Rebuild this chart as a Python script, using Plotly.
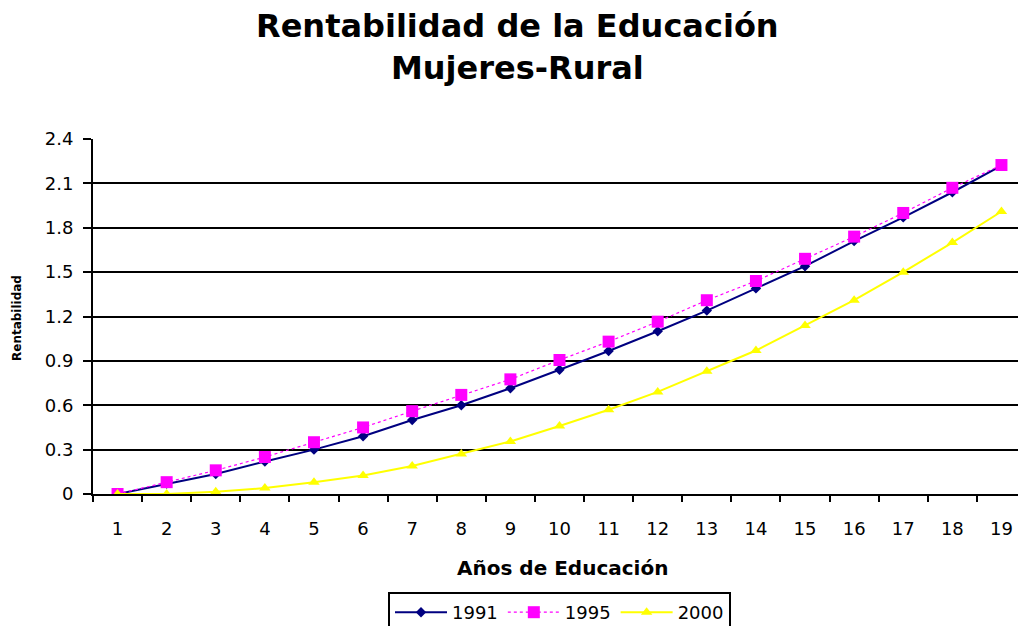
import plotly.graph_objects as go

years_edu = [str(i) for i in range(1, 20)]
serie_1991 = [0.0, 0.07, 0.135, 0.22, 0.30, 0.39, 0.50, 0.60, 0.715, 0.84,
              0.967, 1.10, 1.24, 1.39, 1.54, 1.71, 1.87, 2.04, 2.22]
serie_1995 = [0.0, 0.08, 0.16, 0.25, 0.35, 0.45, 0.56, 0.67, 0.775, 0.906,
              1.03, 1.165, 1.31, 1.44, 1.59, 1.74, 1.90, 2.07, 2.224]
serie_2000 = [0.0, 0.0, 0.015, 0.04, 0.08, 0.125, 0.19, 0.27, 0.355, 0.46,
              0.57, 0.69, 0.83, 0.97, 1.14, 1.31, 1.50, 1.70, 1.91]
y_ticks = [0, 0.3, 0.6, 0.9, 1.2, 1.5, 1.8, 2.1, 2.4]
y_ticklabels = ["0", "0.3", "0.6", "0.9", "1.2", "1.5", "1.8", "2.1", "2.4"]

FONT = "DejaVu Sans, Arial, sans-serif"

# page body has an 8px default margin; figure is sized so it ends at the window edge
W, H = 1018, 618
PLOT_TOP, PLOT_BOTTOM, PLOT_LEFT = 139, 494, 93   # window pixels in reference
OFF = 8
PH = PLOT_BOTTOM - PLOT_TOP
PW = 1026 - PLOT_LEFT

fig = go.Figure()
fig.add_trace(go.Scatter(
    x=years_edu, y=serie_1991, name="1991", mode="lines+markers",
    line=dict(color="#000080", width=2),
    marker=dict(symbol="diamond", size=8, color="#000080"),
))
fig.add_trace(go.Scatter(
    x=years_edu, y=serie_1995, name="1995", mode="lines+markers",
    line=dict(color="#FF00FF", width=1.2, dash="dot"),
    marker=dict(symbol="square", size=12, color="#FF00FF"),
))
fig.add_trace(go.Scatter(
    x=years_edu, y=serie_2000, name="2000", mode="lines+markers",
    line=dict(color="#FFFF00", width=2),
    marker=dict(symbol="triangle-up", size=10, color="#FFFF00"),
))

fig.update_layout(
    width=W, height=H,
    margin=dict(l=PLOT_LEFT - OFF, r=0, t=PLOT_TOP - OFF, b=626 - PLOT_BOTTOM, autoexpand=False),
    paper_bgcolor="white", plot_bgcolor="white",
    font=dict(family=FONT, color="black", size=18),
    xaxis=dict(
        type="category", categoryorder="array", categoryarray=years_edu,
        range=[-0.5, 18.5],
        showline=True, linecolor="black", linewidth=2,
        ticks="outside", tickson="boundaries", ticklen=6, tickwidth=2, tickcolor="black",
        ticklabelstandoff=17,
        showgrid=False, tickfont=dict(size=18, color="black"),
    ),
    yaxis=dict(
        range=[0, 2.4], tickvals=y_ticks, ticktext=y_ticklabels,
        showline=True, linecolor="black", linewidth=2,
        ticks="outside", ticklen=8, tickwidth=2, tickcolor="black",
        ticklabelstandoff=6,
        showgrid=True, gridcolor="black", gridwidth=2,
        zeroline=False, tickfont=dict(size=18, color="black"),
    ),
    legend=dict(
        orientation="h", x=0.5, xanchor="center",
        yref="container", y=1 - (592 - OFF) / H, yanchor="top",
        bordercolor="black", borderwidth=2, bgcolor="white",
        font=dict(size=18, color="black"),
        itemwidth=52,
    ),
    showlegend=True,
    annotations=[
        dict(text="<b>Rentabilidad de la Educación<br>Mujeres-Rural</b>",
             xref="paper", yref="paper",
             x=(517 - PLOT_LEFT) / PW, y=(PLOT_BOTTOM - 47.5) / PH,
             xanchor="center", yanchor="middle", showarrow=False,
             font=dict(size=32, family=FONT, color="black")),
        dict(text="<b>Años de Educación</b>", xref="paper", yref="paper",
             x=(562 - PLOT_LEFT) / PW, y=(PLOT_BOTTOM - 568) / PH,
             xanchor="center", yanchor="middle",
             showarrow=False, font=dict(size=20, family=FONT, color="black")),
        dict(text="<b>Rentabilidad</b>", xref="paper", yref="paper",
             x=(17 - PLOT_LEFT) / PW, y=(PLOT_BOTTOM - 318) / PH,
             xanchor="center", yanchor="middle",
             textangle=-90, showarrow=False,
             font=dict(size=12, family=FONT, color="black")),
    ],
)

fig.write_html("out.html")
